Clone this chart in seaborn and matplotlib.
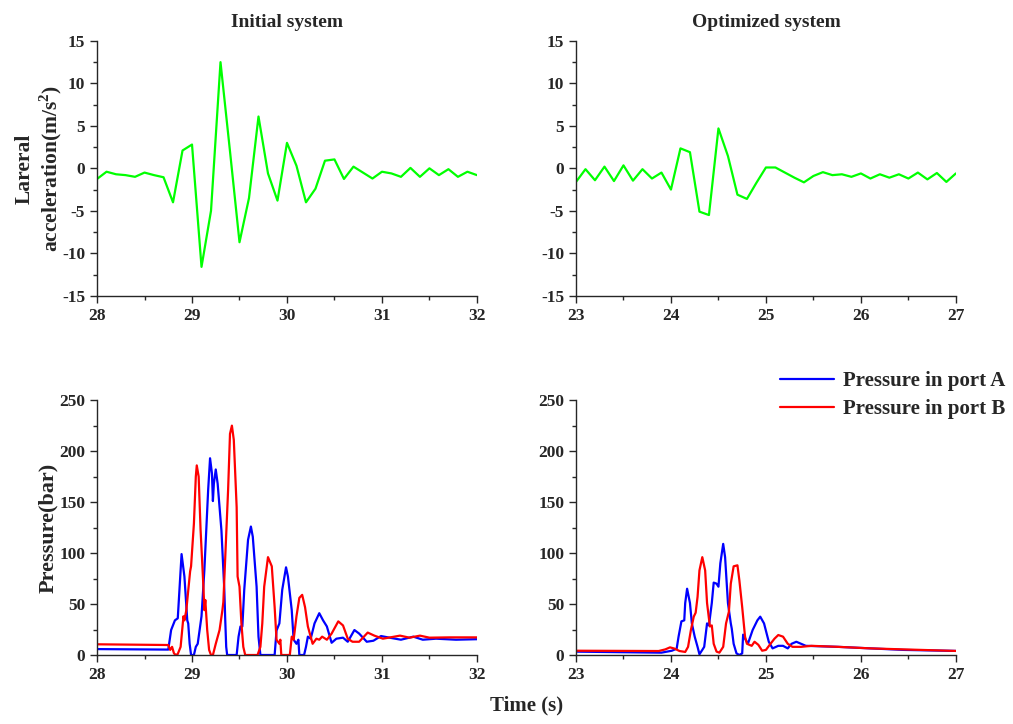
import numpy as np
import pandas as pd
import matplotlib
matplotlib.use("Agg")
import matplotlib.pyplot as plt
from matplotlib.ticker import MultipleLocator
import seaborn as sns

# ---------------- data ----------------
# lateral acceleration, sampled every 0.1 s
acc_init_t = [28.0, 28.1, 28.2, 28.3, 28.4, 28.5, 28.6, 28.7, 28.8, 28.9,
              29.0, 29.1, 29.2, 29.3, 29.4, 29.5, 29.6, 29.7, 29.8, 29.9,
              30.0, 30.1, 30.2, 30.3, 30.4, 30.5, 30.6, 30.7, 30.8, 30.9,
              31.0, 31.1, 31.2, 31.3, 31.4, 31.5, 31.6, 31.7, 31.8, 31.9, 32.0]
acc_init = [-1.25, -0.4, -0.7, -0.8, -1.0, -0.5, -0.8, -1.05, -4.0, 2.1,
            2.8, -11.6, -5.0, 12.5, 2.0, -8.7, -3.5, 6.1, -0.6, -3.8,
            3.0, 0.3, -4.0, -2.4, 0.9, 1.05, -1.25, 0.2, -0.5, -1.2,
            -0.4, -0.6, -1.0, 0.05, -1.0, 0.0, -0.8, -0.1, -1.0, -0.4, -0.8]

acc_opt_t = [23.0, 23.1, 23.2, 23.3, 23.4, 23.5, 23.6, 23.7, 23.8, 23.9,
             24.0, 24.1, 24.2, 24.3, 24.4, 24.5, 24.6, 24.7, 24.8, 24.9,
             25.0, 25.1, 25.2, 25.3, 25.4, 25.5, 25.6, 25.7, 25.8, 25.9,
             26.0, 26.1, 26.2, 26.3, 26.4, 26.5, 26.6, 26.7, 26.8, 26.9, 27.0]
acc_opt = [-1.6, -0.1, -1.4, 0.2, -1.5, 0.35, -1.45, -0.1, -1.2, -0.5,
           -2.5, 2.35, 1.9, -5.1, -5.5, 4.7, 1.45, -3.1, -3.6, -1.7,
           0.1, 0.1, -0.5, -1.1, -1.65, -0.9, -0.45, -0.8, -0.7, -1.0,
           -0.6, -1.2, -0.7, -1.1, -0.7, -1.2, -0.5, -1.3, -0.55, -1.6, -0.6]

# pressure, initial system
pa_init_t = [28.0, 28.75, 28.78, 28.82, 28.85, 28.89, 28.92, 28.95, 28.96, 28.975,
             28.99, 29.02, 29.04, 29.06, 29.10, 29.13, 29.17, 29.19, 29.21, 29.22,
             29.23, 29.25, 29.27, 29.31, 29.34, 29.35, 29.36, 29.37, 29.47, 29.49,
             29.51, 29.53, 29.55, 29.59, 29.62, 29.64, 29.68, 29.70, 29.72, 29.87,
             29.89, 29.92, 29.95, 29.99, 30.01, 30.05, 30.07, 30.10, 30.12, 30.13,
             30.18, 30.20, 30.22, 30.25, 30.29, 30.34, 30.38, 30.42, 30.47, 30.52,
             30.59, 30.64, 30.71, 30.76, 30.84, 30.91, 30.99, 31.08, 31.20, 31.33,
             31.43, 31.57, 31.78, 32.0]
pa_init = [5.8, 5.3, 24.5, 34, 36, 99, 77, 34, 31, 11,
           0, 0, 8, 11, 38, 83, 162, 193, 178, 151,
           168, 182, 168, 122, 64, 34, 8, 0, 0, 18,
           28, 28, 64, 113, 126, 116, 67, 18, 0, 0,
           24, 31, 64, 86, 77, 44, 15, 11, 15, 0,
           0, 8, 18, 16, 31, 41, 34, 28, 12, 16,
           17, 13, 24.5, 21, 13, 14, 18.6, 17, 15, 18,
           15, 16, 15, 15.5]

pb_init_t = [28.0, 28.75, 28.77, 28.79, 28.81, 28.83, 28.85, 28.88, 28.91, 28.92,
             28.94, 28.98, 28.99, 29.02, 29.04, 29.05, 29.07, 29.09, 29.12, 29.13,
             29.14, 29.16, 29.18, 29.20, 29.22, 29.25, 29.29, 29.32, 29.33, 29.35,
             29.38, 29.40, 29.42, 29.44, 29.47, 29.48, 29.50, 29.52, 29.54, 29.56,
             29.69, 29.72, 29.74, 29.76, 29.80, 29.84, 29.87, 29.89, 29.92, 29.93,
             29.94, 30.03, 30.05, 30.07, 30.10, 30.13, 30.16, 30.19, 30.22, 30.27,
             30.31, 30.34, 30.37, 30.42, 30.47, 30.54, 30.59, 30.64, 30.69, 30.76,
             30.85, 30.92, 31.01, 31.19, 31.29, 31.40, 31.50, 31.71, 32.0]
pb_init = [10.5, 9.8, 5, 8, 1.6, 0, 1, 8, 38, 34,
           44, 82, 87, 129, 175, 186, 175, 123, 67, 44,
           54, 24.5, 5, 0, 0, 11, 24.5, 44, 52, 96,
           162, 217, 225, 211, 145, 77, 67, 31, 8, 0,
           0, 8, 31, 67, 96, 87, 47, 15, 11, 15,
           0, 0, 18, 15, 38, 56, 59, 47, 28, 11,
           16, 15, 18, 15, 21, 33, 29, 16, 13, 13,
           22, 19, 16, 19, 17, 19, 17, 17.3, 17.3]

# pressure, optimized system
pa_opt_t = [23.0, 23.9, 24.01, 24.06, 24.08, 24.11, 24.14, 24.15, 24.17, 24.20,
            24.22, 24.25, 24.28, 24.30, 24.33, 24.35, 24.38, 24.40, 24.43, 24.45,
            24.48, 24.50, 24.52, 24.55, 24.57, 24.60, 24.63, 24.64, 24.66, 24.69,
            24.72, 24.75, 24.76, 24.78, 24.81, 24.86, 24.91, 24.94, 24.98, 25.03,
            25.07, 25.13, 25.18, 25.23, 25.27, 25.32, 25.37, 25.42, 25.76, 26.10,
            26.45, 27.0]
pa_opt = [3.3, 2.3, 4.2, 6.2, 18, 33, 34, 51, 65, 51,
          31, 18, 8, 0.7, 5, 8, 31, 29, 51, 71,
          70, 67, 90, 109, 96, 51, 31, 26, 11, 1.6,
          0, 1.6, 20, 16, 11, 24.5, 34, 37.6, 31, 13,
          6.5, 9, 9, 6.5, 11, 13, 11, 9, 8, 6.5,
          5, 4]

pb_opt_t = [23.0, 23.87, 23.94, 23.99, 24.04, 24.09, 24.15, 24.18, 24.21, 24.24,
            24.26, 24.28, 24.30, 24.33, 24.36, 24.38, 24.41, 24.43, 24.45, 24.48,
            24.51, 24.55, 24.58, 24.61, 24.63, 24.66, 24.70, 24.72, 24.75, 24.78,
            24.80, 24.85, 24.88, 24.92, 24.96, 25.00, 25.04, 25.09, 25.13, 25.18,
            25.23, 25.28, 25.37, 25.48, 25.76, 26.10, 26.45, 27.0]
pb_opt = [4.2, 3.9, 5.5, 7.5, 6.2, 3.9, 3, 8, 24.5, 37.6,
          41.5, 57, 83, 96, 83, 51, 28, 29, 11, 3.3,
          2.3, 8, 31, 42.5, 70, 87, 88, 73.5, 47, 18,
          11, 9, 13, 10, 4.2, 5, 10, 16, 19.6, 18,
          11, 8, 8, 9, 8, 6.5, 5.5, 4]

titles = ["Initial system", "Optimized system"]
legend_labels = ["Pressure in port A", "Pressure in port B"]

# ---------------- style ----------------
sns.set_style("ticks")
plt.rcParams["font.family"] = ["Liberation Serif", "DejaVu Serif"]
plt.rcParams["font.weight"] = "bold"
plt.rcParams["axes.unicode_minus"] = False
plt.rcParams["mathtext.fontset"] = "custom"
plt.rcParams["mathtext.rm"] = "Liberation Serif:bold"
plt.rcParams["mathtext.bf"] = "Liberation Serif:bold"

GREEN, BLUE, RED = "#00ff00", "#0000ff", "#ff0000"

fig = plt.figure(figsize=(10.13, 7.24), dpi=100)
w, h = 0.375, 0.352
ax_tl = fig.add_axes([0.0958, 0.5915, w, h])
ax_tr = fig.add_axes([0.5686, 0.5915, w, h])
ax_bl = fig.add_axes([0.0958, 0.0953, w, h])
ax_br = fig.add_axes([0.5686, 0.0953, w, h])

# top row: acceleration
sns.lineplot(x=acc_init_t, y=acc_init, ax=ax_tl, color=GREEN, lw=1.6, estimator=None)
sns.lineplot(x=acc_opt_t, y=acc_opt, ax=ax_tr, color=GREEN, lw=1.6, estimator=None)

# bottom row: pressure
df_init = pd.concat([
    pd.DataFrame({"t": pa_init_t, "p": pa_init, "port": legend_labels[0]}),
    pd.DataFrame({"t": pb_init_t, "p": pb_init, "port": legend_labels[1]}),
])
df_opt = pd.concat([
    pd.DataFrame({"t": pa_opt_t, "p": pa_opt, "port": legend_labels[0]}),
    pd.DataFrame({"t": pb_opt_t, "p": pb_opt, "port": legend_labels[1]}),
])
pal = {legend_labels[0]: BLUE, legend_labels[1]: RED}
sns.lineplot(data=df_init, x="t", y="p", hue="port", palette=pal, ax=ax_bl,
             lw=1.6, estimator=None, legend=False)
sns.lineplot(data=df_opt, x="t", y="p", hue="port", palette=pal, ax=ax_br,
             lw=1.6, estimator=None, legend=True)

for ax, x0 in [(ax_tl, 28), (ax_tr, 23), (ax_bl, 28), (ax_br, 23)]:
    ax.set_xlim(x0, x0 + 4)
    ax.xaxis.set_major_locator(MultipleLocator(1))
    ax.xaxis.set_minor_locator(MultipleLocator(0.5))
    ax.set_xlabel("")
    ax.set_ylabel("")
    ax.tick_params(which="major", direction="out", length=5, width=1, labelsize=12.5)
    ax.tick_params(which="minor", direction="out", length=3, width=1)
    for s in ["left", "bottom"]:
        ax.spines[s].set_linewidth(1)
    sns.despine(ax=ax)

for ax in (ax_tl, ax_tr):
    ax.set_ylim(-15, 15)
    ax.yaxis.set_major_locator(MultipleLocator(5))
    ax.yaxis.set_minor_locator(MultipleLocator(2.5))
for ax in (ax_bl, ax_br):
    ax.set_ylim(0, 250)
    ax.yaxis.set_major_locator(MultipleLocator(50))
    ax.yaxis.set_minor_locator(MultipleLocator(25))

ax_tl.set_title(titles[0], fontsize=14, fontweight="bold", pad=10)
ax_tr.set_title(titles[1], fontsize=14, fontweight="bold", pad=10)

ax_tl.set_ylabel("Lareral\nacceleration(m/s$^2$)", fontsize=15.5, fontweight="bold",
                 linespacing=1.1, va="center")
ax_tl.yaxis.set_label_coords(-0.152, 0.5)
ax_bl.set_ylabel("Pressure(bar)", fontsize=16, fontweight="bold", va="center")
ax_bl.yaxis.set_label_coords(-0.13, 0.5)

fig.text(0.52, 0.012, "Time (s)", ha="center", va="bottom", fontsize=15, fontweight="bold")

ax_br.get_legend().remove()
handles, labels = ax_br.get_legend_handles_labels()
leg = fig.legend(handles, labels, loc="upper right", bbox_to_anchor=(1005 / 1013, 1 - 371 / 724),
                 frameon=False, fontsize=15, handlelength=2.6, handletextpad=0.4,
                 labelspacing=0.4, borderaxespad=0, borderpad=0)
for line in leg.get_lines():
    line.set_linewidth(1.6)

fig.savefig("out.png", dpi=100)
